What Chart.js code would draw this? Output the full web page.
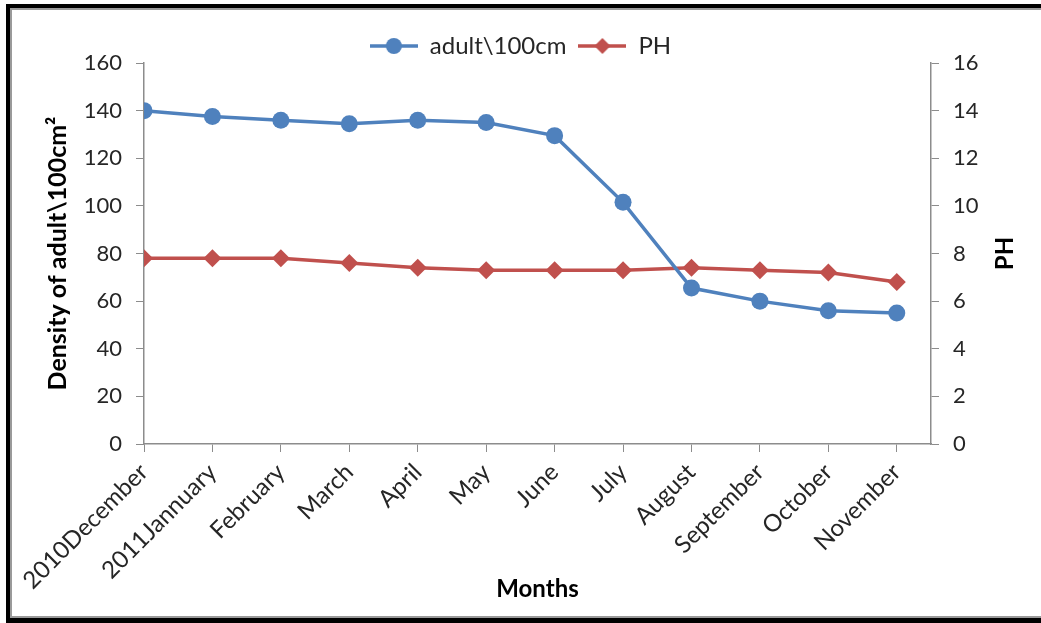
<!DOCTYPE html>
<html>
<head>
<meta charset="utf-8">
<script src="https://cdn.jsdelivr.net/npm/chart.js@4.4.1/dist/chart.umd.min.js"></script>
<style>
    html, body { margin: 0; padding: 0; background: #fff; overflow: hidden; }
    #wrap { position: relative; width: 1041px; height: 623px; overflow: hidden; }
    #chart { position: absolute; left: 0; top: 0; }
    #frame {
        position: absolute; left: 6px; top: 4px; width: 1100px; bottom: 0;
        border-left: 4px solid #000; border-top: 4px solid #000; border-bottom: 5px solid #000;
        pointer-events: none;
    }
    #frame div {
        position: absolute; left: 0; top: 0; right: 0; bottom: 0;
        border-left: 2px solid #9a9a9a; border-top: 2px solid #9a9a9a; border-bottom: 2px solid #9a9a9a;
    }
</style>
</head>
<body>
<div id="wrap">
    <canvas id="chart" width="1041" height="623"></canvas>
    <div id="frame"><div></div></div>
</div>
<script>
/* ================= DATA ================= */

const months = ["2010December", "2011Jannuary", "February", "March", "April", "May",
    "June", "July", "August", "September", "October", "November"];
const adultDensity = [140, 137.5, 136, 134.5, 136, 135, 129.5, 101.5, 65.5, 60, 56, 55];
const phValues = [7.8, 7.8, 7.8, 7.6, 7.4, 7.3, 7.3, 7.3, 7.4, 7.3, 7.2, 6.8];

const BLUE = "#4f81bd";
const RED = "#c0504d";
const AXIS = "#8c8c8c";
const TEXT = "#262626";
const FONT = "Lato, 'Open Sans', sans-serif";

/* ================= HELPERS ================= */

function points(values) {
    return values.map((v, i) => ({ x: i, y: v }));
}

// legend marker: short line with the series marker in the middle
function legendIcon(color, shape) {
    const c = document.createElement("canvas");
    c.width = 48; c.height = 20;
    const g = c.getContext("2d");
    g.strokeStyle = color;
    g.lineWidth = 3.5;
    g.beginPath(); g.moveTo(0, 10); g.lineTo(48, 10); g.stroke();
    g.fillStyle = color;
    g.beginPath();
    if (shape === "circle") {
        g.arc(24, 10, 8, 0, Math.PI * 2);
    } else {
        g.moveTo(24, 2); g.lineTo(32, 10); g.lineTo(24, 18); g.lineTo(16, 10); g.closePath();
    }
    g.fill();
    return c;
}

const icons = [legendIcon(BLUE, "circle"), legendIcon(RED, "diamond")];

// right axis title reads bottom-to-top like the left one
const rightTitle = {
    id: "rightTitle",
    afterDraw(chart) {
        const s = chart.scales.y1;
        const ctx = chart.ctx;
        ctx.save();
        ctx.translate(s.right - 36, (s.top + s.bottom) / 2);
        ctx.rotate(-Math.PI / 2);
        ctx.fillStyle = "#000";
        ctx.font = "bold 24px " + FONT;
        ctx.textAlign = "center";
        ctx.textBaseline = "middle";
        ctx.fillText("PH", 0, 0);
        ctx.restore();
    }
};

// legend takes a little less room below it
const tightLegend = {
    id: "tightLegend",
    beforeLayout(chart) {
        const lg = chart.legend;
        if (!lg || lg._tight) return;
        const fit = lg.fit;
        lg.fit = function () { fit.call(this); this.height -= 5; };
        lg._tight = true;
    }
};

/* ================= CHART ================= */

new Chart(document.getElementById("chart"), {
    type: "line",
    data: {
        datasets: [
            {
                label: "adult\\100cm",
                data: points(adultDensity),
                yAxisID: "y",
                borderColor: BLUE,
                backgroundColor: BLUE,
                borderWidth: 3.5,
                pointStyle: "circle",
                pointRadius: 8.5,
                pointBorderWidth: 0,
                tension: 0
            },
            {
                label: "PH",
                data: points(phValues),
                yAxisID: "y1",
                borderColor: RED,
                backgroundColor: RED,
                borderWidth: 3.5,
                pointStyle: "rectRot",
                pointRadius: 9,
                pointBorderWidth: 0,
                tension: 0
            }
        ]
    },
    plugins: [rightTitle, tightLegend],
    options: {
        responsive: false,
        animation: false,
        layout: { padding: { top: 22, left: 0, right: 0, bottom: 0 } },
        plugins: {
            tooltip: { enabled: false },
            legend: {
                position: "top",
                labels: {
                    usePointStyle: true,
                    pointStyleWidth: 48,
                    boxHeight: 20,
                    padding: 12,
                    color: TEXT,
                    font: { family: FONT, size: 24 },
                    generateLabels(chart) {
                        return chart.data.datasets.map((ds, i) => ({
                            text: ds.label,
                            fillStyle: ds.borderColor,
                            strokeStyle: ds.borderColor,
                            fontColor: TEXT,
                            lineWidth: 0,
                            pointStyle: icons[i],
                            datasetIndex: i,
                            hidden: false
                        }));
                    }
                }
            }
        },
        scales: {
            x: {
                type: "linear",
                min: 0,
                max: 11.5,
                afterFit(scale) { scale.height = 179; },
                afterBuildTicks(scale) { scale.ticks = months.map((m, i) => ({ value: i })); },
                grid: { drawOnChartArea: false, tickLength: 8, color: AXIS },
                border: { display: true, color: AXIS, width: 1.5 },
                ticks: {
                    autoSkip: false,
                    maxRotation: 45,
                    minRotation: 45,
                    padding: 6,
                    color: TEXT,
                    font: { family: FONT, size: 24 },
                    callback: v => months[v]
                },
                title: {
                    display: true,
                    text: "Months",
                    color: "#000",
                    font: { family: FONT, size: 24, weight: "bold" },
                    padding: { top: 0, bottom: 19 }
                }
            },
            y: {
                position: "left",
                min: 0,
                max: 160,
                afterFit(scale) { scale.width = 144; },
                grid: { drawOnChartArea: false, tickLength: 8, color: AXIS },
                border: { display: true, color: AXIS, width: 1.5 },
                ticks: {
                    stepSize: 20,
                    padding: 14,
                    color: TEXT,
                    font: { family: FONT, size: 22 }
                },
                title: {
                    display: true,
                    text: "Density of adult\\100cm\u00b2",
                    color: "#000",
                    font: { family: FONT, size: 25, weight: "bold" },
                    padding: { top: 43, bottom: 0 }
                }
            },
            y1: {
                position: "right",
                min: 0,
                max: 16,
                afterFit(scale) { scale.width = 110; },
                grid: { drawOnChartArea: false, tickLength: 8, color: AXIS },
                border: { display: true, color: AXIS, width: 1.5 },
                ticks: {
                    stepSize: 2,
                    padding: 14,
                    color: TEXT,
                    font: { family: FONT, size: 22 }
                },
                title: { display: false }
            }
        }
    }
});
</script>
</body>
</html>
